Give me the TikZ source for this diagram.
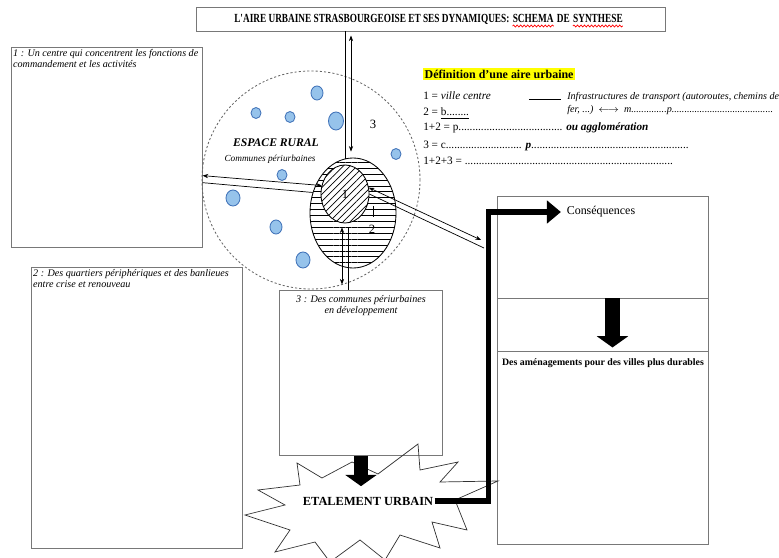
\documentclass[tikz,border=0pt]{standalone}
\usepackage{fontspec}
\usepackage{xcolor}
\setmainfont{Liberation Serif}
\newfontfamily\titlefont[FakeStretch=0.75]{Liberation Serif}
\usetikzlibrary{arrows.meta,shapes,positioning,calc,patterns.meta,decorations.pathmorphing}

\definecolor{dotfill}{RGB}{150,195,235}
\definecolor{dotdraw}{RGB}{65,115,185}
\definecolor{boxgray}{RGB}{120,120,120}
\definecolor{marker}{RGB}{255,255,0}

\tikzset{
	box/.style={shape=rectangle,draw=boxgray,line width=0.7pt,inner sep=0pt},
	titletext/.style={font=\titlefont\bfseries\fontsize{8.8}{10}\selectfont,inner sep=0pt},
	spellwave/.style={draw=red,line width=0.5pt,decorate,decoration={snake,amplitude=0.7pt,segment length=2.5pt}},
	boxtext/.style={font=\fontsize{7.2}{8.2}\selectfont\itshape,inner sep=1pt,align=left},
	deftext/.style={font=\fontsize{8}{9.5}\selectfont,inner sep=0pt},
	infotext/.style={font=\fontsize{7.2}{8}\selectfont\itshape,inner sep=0pt},
	dot/.style={shape=ellipse,draw=dotdraw,fill=dotfill,line width=0.6pt,inner sep=0pt},
	twoway/.style={{Stealth[length=4pt,width=3pt]}-{Stealth[length=4pt,width=3pt]},line width=0.5pt},
	rail/.style={line width=0.5pt},
	blockarrow/.style={line width=10pt,-{Triangle[length=8pt,width=22pt]}},
	bigarrow/.style={line width=3.6pt,-{Triangle[length=10pt,width=16pt]}},
	starline/.style={draw=black!80,line width=0.5pt,line join=miter},
}

\begin{document}
\begin{tikzpicture}[x=0.025cm,y=-0.025cm]
	\useasboundingbox (0,0) rectangle (779,558);
	% title
	\node[box,minimum width=11.7cm,minimum height=0.6cm] (title) at (431,19) {};
	\node[titletext,anchor=base west] (tt1) at (234,23) {L'AIRE URBAINE STRASBOURGEOISE ET SES DYNAMIQUES:};
	\node[titletext,base right=2pt of tt1] (tt2) {SCHEMA};
	\node[titletext,base right=2pt of tt2] (tt3) {DE};
	\node[titletext,base right=2pt of tt3] (tt4) {SYNTHESE};
	\draw[spellwave] ($(tt2.base west)+(0,3)$) -- ($(tt2.base east)+(0,3)$);
	\draw[spellwave] ($(tt4.base west)+(0,3)$) -- ($(tt4.base east)+(0,3)$);

	% boxes
	\node[box,minimum width=4.75cm,minimum height=4.975cm] (box1) at (107,147.5) {};
	\node[box,minimum width=5.25cm,minimum height=7cm] (box2) at (137,408) {};
	\node[box,minimum width=4.05cm,minimum height=4.1cm] (box3) at (361,373) {};
	\node[box,minimum width=5.25cm,minimum height=8.675cm] (rbox) at (603,370.5) {};
	\node[boxtext,anchor=north west] (t1) at (box1.north west) {1 : Un centre qui concentrent les fonctions de\\commandement et les activités};
	\node[boxtext,anchor=north west] (t2) at (box2.north west) {2 : Des quartiers périphériques et des banlieues\\entre crise et renouveau};
	\node[boxtext,anchor=north,align=center] (t3) at ([yshift=-2pt]box3.north) {3 : Des communes périurbaines\\en développement};

	% espace rural
	\node[shape=circle,draw=black!60,dash pattern=on 1.5pt off 1.5pt,line width=0.6pt,minimum size=5.45cm] (rural) at (311,180) {};
	\node[dot,minimum width=0.3cm,minimum height=0.35cm] (d1) at (317,93) {};
	\node[dot,minimum width=0.25cm,minimum height=0.275cm] (d2) at (256,113) {};
	\node[dot,minimum width=0.25cm,minimum height=0.275cm] (d3) at (290,117) {};
	\node[dot,minimum width=0.375cm,minimum height=0.45cm] (d4) at (336,121) {};
	\node[dot,minimum width=0.25cm,minimum height=0.275cm] (d5) at (396,154) {};
	\node[dot,minimum width=0.25cm,minimum height=0.275cm] (d6) at (282,175) {};
	\node[dot,minimum width=0.35cm,minimum height=0.4cm] (d7) at (233,198) {};
	\node[dot,minimum width=0.3cm,minimum height=0.35cm] (d8) at (276,227) {};
	\node[dot,minimum width=0.35cm,minimum height=0.4cm] (d9) at (303,260) {};
	\node[font=\fontsize{8.3}{9}\selectfont\bfseries\itshape,inner sep=0pt] (rurallbl) at (276,143) {ESPACE RURAL};
	\node[font=\fontsize{6.6}{7}\selectfont\itshape,inner sep=0pt] (periurb) at (270,159) {Communes périurbaines};

	% agglomeration
	\node[shape=ellipse,draw,line width=0.6pt,inner sep=0pt,minimum width=2.15cm,minimum height=2.75cm,preaction={fill=white},pattern={Lines[angle=0,distance=4.2pt,line width=0.5pt]}] (zone2) at (353,213) {};
	\node[shape=ellipse,draw,line width=0.6pt,inner sep=0pt,minimum width=1.2cm,minimum height=1.45cm,preaction={fill=white},pattern={Lines[angle=45,distance=3.5pt,line width=0.5pt]},font=\fontsize{9}{10}\selectfont] (zone1) at (345,194) {1};
	\node[deftext,font=\fontsize{9}{10}\selectfont] (lbl2) at (372,229) {2};
	\node[deftext,font=\fontsize{9}{10}\selectfont] (lbl3) at (373,124) {3};
	\draw[rail] ($(lbl2.north)+(1,-8)$) -- ++(0,-11);

	% flows
	\draw[twoway] ($(title.south -| zone2.north)+(-2,4)$) -- ($(zone2.north)+(-2,-6)$);
	\draw[rail] ($(title.south -| zone2.north)+(-8,0)$) -- ($(zone2.north)+(-8,1)$);
	\draw[twoway] ($(zone1.south)+(-3,4)$) -- ($(zone1.south |- box3.north)+(-3,-6)$);
	\draw[rail] ($(zone1.south)+(3,4)$) -- ($(zone1.south |- box3.north)+(3,0)$);
	\draw[twoway] ([yshift=-20pt]box1.east) -- (zone1.160);
	\draw[rail] ([yshift=-25pt]box1.east) -- (zone2.153);
	\coordinate (rtip) at (481,240);
	\coordinate (rrail) at (484,248);
	\draw[twoway] (zone1.15) -- (rtip);
	\draw[rail] (zone1.0) -- (rrail);

	% definition
	\node[deftext,font=\fontsize{8.5}{10}\selectfont\bfseries,fill=marker,inner sep=1pt,anchor=west] (defhead) at (423,74) {Définition d'une aire urbaine};
	\node[deftext,anchor=base west] (def1) at (423,100) {1 = \textit{ville centre}};
	\node[deftext,anchor=base west] (def2) at (423,116) {2 = \underline{b........}};
	\node[deftext,anchor=base west] (def3) at (423,131) {1+2 = p..................................... \textbf{\textit{ou agglomération}}};
	\node[deftext,anchor=base west] (def4) at (423,149) {3 = c........................... \textbf{\textit{p}}........................................................};
	\node[deftext,anchor=base west] (def5) at (423,165) {1+2+3 = ..........................................................................};
	\node[infotext,anchor=base west] (infra1) at (567,100) {Infrastructures de transport (autoroutes, chemins de};
	\node[infotext,anchor=base west] (infra2) at (567,113) {fer, ...)\ \ $\longleftrightarrow$\ \ m..............p........................................};
	\node[deftext,anchor=base east] (legline) at ([xshift=-4pt]infra1.base west) {\rule{23pt}{0.5pt}};

	% consequences
	\coordinate (s1w) at ($(rbox.north west)+(0,102)$);
	\coordinate (s1e) at ($(rbox.north east)+(0,102)$);
	\coordinate (s2w) at ($(rbox.north west)+(0,155)$);
	\coordinate (s2e) at ($(rbox.north east)+(0,155)$);
	\draw[draw=boxgray,line width=0.7pt] (s1w) -- (s1e);
	\draw[draw=boxgray,line width=0.7pt] (s2w) -- (s2e);
	\node[deftext,font=\fontsize{8.5}{10}\selectfont] (conseq) at (601,212) {Conséquences};
	\node[deftext,font=\fontsize{7}{8}\selectfont\bfseries,anchor=north] (durable) at ($(s2w)!0.5!(s2e)+(0,7)$) {Des aménagements pour des villes plus durables};
	\draw[blockarrow] ($(s1w)!0.545!(s1e)$) -- ($(s2w)!0.545!(s2e)+(0,-4)$);

	% etalement
	\draw[starline] (297,463) -- (322,478) -- (352,462) -- (378,474) -- (418,444) -- (420,470) -- (458,462) -- (440,482) -- (498,481) -- (455,500) -- (467,530) -- (432,522) -- (440,548) -- (400,535) -- (385,560) -- (360,540) -- (330,562) -- (315,542) -- (275,552) -- (290,530) -- (245,515) -- (285,505) -- (258,490) -- (300,485) -- cycle;
	\node[font=\fontsize{8.8}{10}\selectfont\bfseries,inner sep=1pt] (etal) at (368,501) {ETALEMENT URBAIN};
	\draw[blockarrow] (box3.south) -- ($(box3.south |- etal.north)+(0,-9)$);
	\draw[bigarrow] (etal.east) -- ++(54,0) |- ([xshift=-4pt]conseq.west);
\end{tikzpicture}
\end{document}
